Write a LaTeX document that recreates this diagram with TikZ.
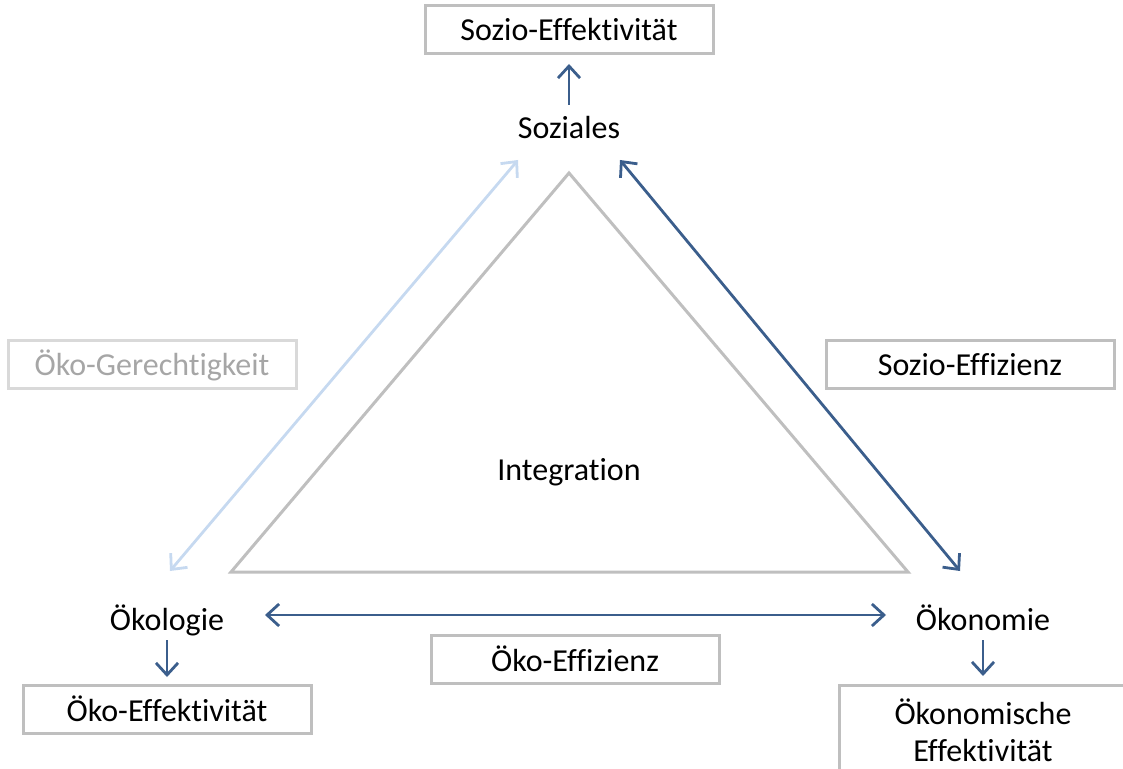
\documentclass[tikz,border=0pt]{standalone}
\usepackage{fontspec}
\setmainfont[Ligatures={NoCommon}]{Carlito}
\usetikzlibrary{arrows.meta, positioning}
\definecolor{darkblue}{HTML}{3B5E8C}
\definecolor{lightblue}{HTML}{C6D9F0}
\definecolor{framegray}{HTML}{BFBFBF}
\definecolor{palegray}{HTML}{D9D9D9}
\definecolor{textgray}{HTML}{A6A6A6}

\begin{document}
\begin{tikzpicture}[x=0.5pt, y=-0.5pt, font=\fontsize{16}{18.5}\selectfont,
    labelbox/.style={draw=framegray, line width=1.5pt, minimum width=144pt, minimum height=24pt, inner sep=0pt},
    flow/.style={darkblue, line width=1.4pt, >={Straight Barb[length=6pt, width=11pt]}}]
    \clip (0,0) rectangle (1123,769);

    % corners of the triangle
    \node (soz) at (569,128) {Soziales};
    \node (oeko) at (167,620) {Ökologie};
    \node (oekon) at (983,618) {Ökonomie};
    \node (integ) at (569,472) {Integration};

    \draw[framegray, line width=1.5pt] (569,173) -- (908,572) -- (231,572) -- cycle;

    % boxes
    \node[labelbox] (sozeff) at (569,30) {Sozio-Effektivität};
    \node[labelbox, draw=palegray, text=textgray] (gerecht) at (152,365) {Öko-Gerechtigkeit};
    \node[labelbox] (sozeffz) at (970,365) {Sozio-Effizienz};
    \node[labelbox] (oekoeffz) at (575,659) {Öko-Effizienz};
    \node[labelbox] (oekoeff) at (167,709) {Öko-Effektivität};
    \node[labelbox, minimum height=45pt, align=center] (oekoneff) at (983,730) {Ökonomische\\Effektivität};

    % arrows
    \draw[flow, ->] ([shift={(0,-23)}]soz.center) -- ([shift={(0,34)}]sozeff.center);
    \draw[flow, <->, lightblue] ([shift={(-51,32)}]soz.center) -- ([shift={(3,-49)}]oeko.center);
    \draw[flow, <->] ([shift={(51,32)}]soz.center) -- ([shift={(-23,-47)}]oekon.center);
    \draw[flow, <->] ([shift={(98,-5)}]oeko.center) -- ([shift={(-97,-3)}]oekon.center);
    \draw[flow, ->] ([shift={(0,20)}]oeko.center) -- ([shift={(0,-32)}]oekoeff.center);
    \draw[flow, ->] ([shift={(0,22)}]oekon.center) -- ([shift={(0,-54)}]oekoneff.center);
\end{tikzpicture}
\end{document}
